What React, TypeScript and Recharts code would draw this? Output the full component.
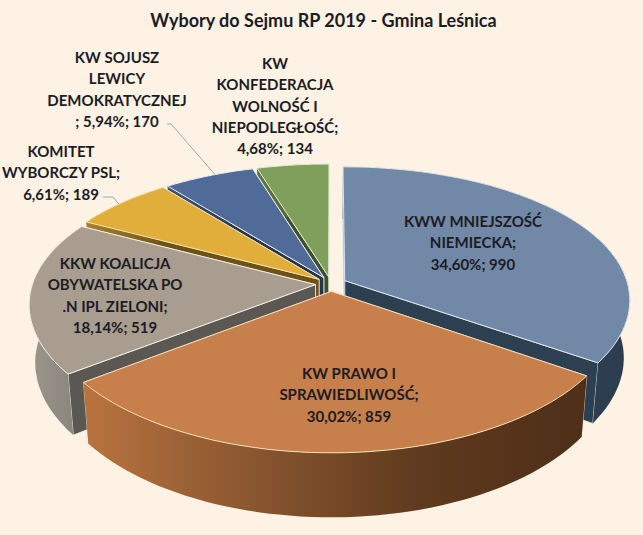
import React from 'react';
import { PieChart, Pie } from 'recharts';

// draw order is back to front, so the slices overlap the way they do in a 3D pie
const categories = [
  'KWW MNIEJSZOŚĆ NIEMIECKA',
  'KW KONFEDERACJA WOLNOŚĆ I NIEPODLEGŁOŚĆ',
  'KW SOJUSZ LEWICY DEMOKRATYCZNEJ',
  'KOMITET WYBORCZY PSL',
  'KKW KOALICJA OBYWATELSKA PO .N IPL ZIELONI',
  'KW PRAWO I SPRAWIEDLIWOŚĆ',
];
const votes = [990, 134, 170, 189, 519, 859];

const labelLines = [
  ['KWW MNIEJSZOŚĆ', 'NIEMIECKA;', '34,60%; 990'],
  ['KW', 'KONFEDERACJA', 'WOLNOŚĆ I', 'NIEPODLEGŁOŚĆ;', '4,68%; 134'],
  ['KW SOJUSZ', 'LEWICY', 'DEMOKRATYCZNEJ', '; 5,94%; 170'],
  ['KOMITET', 'WYBORCZY PSL;', '6,61%; 189'],
  ['KKW KOALICJA', 'OBYWATELSKA PO', '.N IPL ZIELONI;', '18,14%; 519'],
  ['KW PRAWO I', 'SPRAWIEDLIWOŚĆ;', '30,02%; 859'],
];

const title = 'Wybory do Sejmu RP 2019 - Gmina Leśnica';

const chartData = categories.map((name, i) => ({ name, value: votes[i], index: i }));

// styles, same order as the data
const topColors = ['#7189a7', '#7f9f5b', '#506b97', '#e2ae3b', '#a89d8e', '#c77f4b'];
const edgeColors = ['#dfe6ee', '#e6eed8', '#f0f2f6', '#f5e2b0', '#f3eee6', '#f8dcb8'];
const cutColors = ['#2d4052', '#3f4f2c', '#27354c', '#6d5216', '#5b5752', '#5f3a1e'];
const rimStops = [
  ['#33485e', '#2c3d4f'],
  ['#5f7a42', '#3f4f2c'],
  ['#3d5274', '#27354c'],
  ['#a8812a', '#6d5216'],
  ['#9c968b', '#85817a'],
  ['#b8743f', '#8a5630', '#5f3a1e', '#4e2f18'],
];
const labelCenters = [
  [473, 221],
  [275, 63],
  [117, 57],
  [61, 151],
  [115, 263],
  [349, 373],
];
const leaderStarts = [null, null, [167, 124, 171, 124], [103, 197, 113, 197], null, null];
const leaderEndAngles = [null, null, 116, 141, null, null];

const RADIUS = 283;
const CENTER_X = 326;
const CENTER_Y = 279;
const START_ANGLE = -34.56;
const TILT = 0.47;
const PERSPECTIVE_X = 0.14;
const PERSPECTIVE_Y = 0.16;
const EXPLODE = 0.055;
const DEPTH = 57;
const DEPTH_GROWTH = 0.00078;
const DEPTH_SCALE = 0.98;
const LINE_HEIGHT = 21.3;
const TEXT_FONT = 'Lato, "Open Sans", sans-serif';

const rad = (a: number) => (a * Math.PI) / 180;

// unit disc -> screen, nearer points get larger
function project(cx: number, cy: number, r: number, u: number, v: number) {
  return [cx + (r * u) / (1 + PERSPECTIVE_X * v), cy - (r * TILT * v) / (1 + PERSPECTIVE_Y * v)];
}

function slicePoint(cx: number, cy: number, r: number, mid: number, angle: number | null) {
  const ex = EXPLODE * Math.cos(rad(mid));
  const ey = EXPLODE * Math.sin(rad(mid));
  if (angle === null) return project(cx, cy, r, ex, ey);
  return project(cx, cy, r, ex + Math.cos(rad(angle)), ey + Math.sin(rad(angle)));
}

const lower = (p: number[], cx: number, cy: number) => [
  cx + (p[0] - cx) * DEPTH_SCALE,
  p[1] + DEPTH * (1 + DEPTH_GROWTH * (p[1] - cy)),
];
const toPoints = (pts: number[][]) => pts.map((p) => `${p[0].toFixed(1)},${p[1].toFixed(1)}`).join(' ');

function Slice3D(props: any) {
  const { cx, cy, outerRadius, startAngle, endAngle, payload } = props;
  const i = payload.index;
  const mid = (startAngle + endAngle) / 2;
  const arc: number[][] = [];
  const steps = Math.max(4, Math.ceil(Math.abs(endAngle - startAngle) / 2));
  for (let k = 0; k <= steps; k++) {
    arc.push(slicePoint(cx, cy, outerRadius, mid, startAngle + ((endAngle - startAngle) * k) / steps));
  }
  const apex = slicePoint(cx, cy, outerRadius, mid, null);
  const first = arc[0];
  const last = arc[arc.length - 1];
  const rimId = `rim-${i}`;
  const stops = rimStops[i];
  return (
    <g>
      <defs>
        <linearGradient id={rimId} x1="0" y1="0" x2="1" y2="0">
          {stops.map((c, k) => (
            <stop key={k} offset={k / (stops.length - 1)} stopColor={c} />
          ))}
        </linearGradient>
      </defs>
      <polygon
        points={toPoints([apex, first, lower(first, cx, cy), lower(apex, cx, cy)])}
        fill={cutColors[i]}
        stroke={edgeColors[i]}
        strokeWidth={0.8}
      />
      <polygon
        points={toPoints([apex, last, lower(last, cx, cy), lower(apex, cx, cy)])}
        fill={cutColors[i]}
        stroke={edgeColors[i]}
        strokeWidth={0.8}
      />
      <polygon
        points={toPoints([...arc, ...arc.map((p) => lower(p, cx, cy)).reverse()])}
        fill={`url(#${rimId})`}
      />
      <polygon points={toPoints([apex, ...arc])} fill={topColors[i]} stroke={edgeColors[i]} strokeWidth={1} />
    </g>
  );
}

function SliceLabel(props: any) {
  const { cx, cy, midAngle, index, outerRadius } = props;
  const lines = labelLines[index];
  const [x, y] = labelCenters[index];
  const leader = leaderStarts[index];
  const end = slicePoint(cx, cy, outerRadius, midAngle, leaderEndAngles[index] ?? midAngle);
  return (
    <g>
      {leader && (
        <polyline
          points={toPoints([[leader[0], leader[1]], [leader[2], leader[3]], end])}
          fill="none"
          stroke="#a6a6a6"
          strokeWidth={1}
        />
      )}
      {lines.map((line, k) => (
        <text
          key={k}
          x={x}
          y={y + k * LINE_HEIGHT}
          textAnchor="middle"
          dominantBaseline="central"
          fontFamily={TEXT_FONT}
          fontWeight={700}
          fontSize={15}
          fill="#1c1c24"
        >
          {line}
        </text>
      ))}
    </g>
  );
}

export default function App() {
  return (
    <div style={{ position: 'absolute', left: 0, top: 0, width: 643, height: 535, background: '#fdf2e4', overflow: 'hidden' }}>
      <div
        style={{
          position: 'absolute',
          left: 0,
          top: 7,
          width: 647,
          textAlign: 'center',
          fontFamily: TEXT_FONT,
          fontWeight: 700,
          fontSize: 18,
          lineHeight: '26px',
          color: '#1c1c24',
        }}
      >
        {title}
      </div>
      <PieChart width={643} height={535} style={{ position: 'absolute', left: 0, top: 0 }}>
        <Pie
          data={chartData}
          dataKey="value"
          nameKey="name"
          cx={CENTER_X}
          cy={CENTER_Y}
          innerRadius={0}
          outerRadius={RADIUS}
          startAngle={START_ANGLE}
          endAngle={START_ANGLE + 360}
          stroke="none"
          shape={Slice3D}
          label={SliceLabel}
          labelLine={false}
          isAnimationActive={false}
        />
      </PieChart>
    </div>
  );
}
